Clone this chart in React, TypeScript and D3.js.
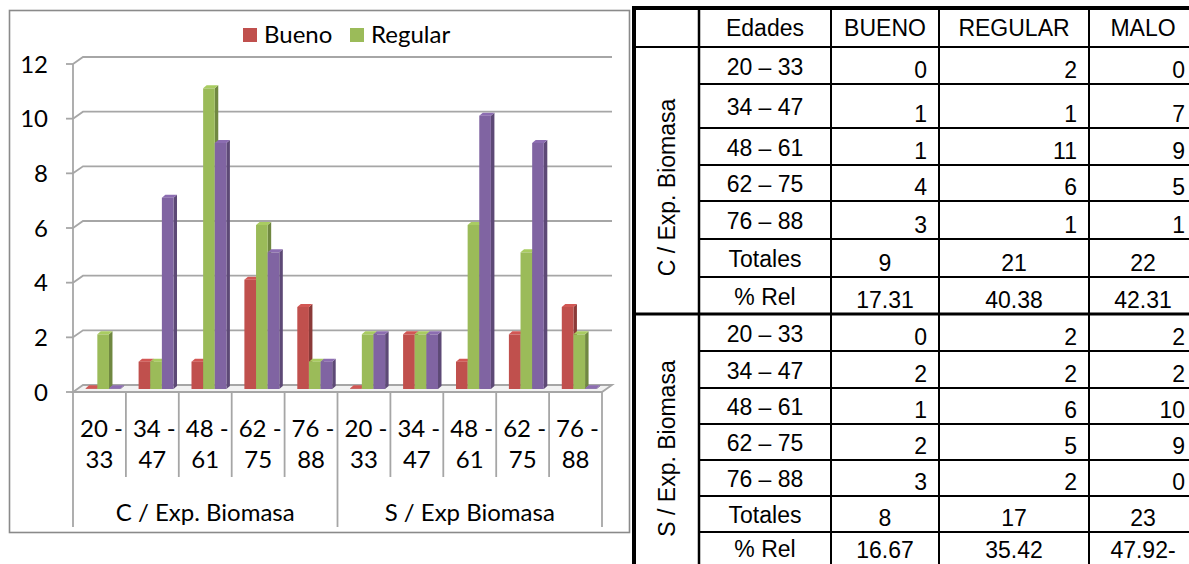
import React from "react";
import * as d3 from "d3";

// ---- Chart data ----
const groups = ["C / Exp. Biomasa", "S / Exp Biomasa"];
const ageTop = ["20 -", "34 -", "48 -", "62 -", "76 -"];
const ageBottom = ["33", "47", "61", "75", "88"];
const seriesNames = ["Bueno", "Regular", "Malo"];
const seriesColors = ["#C0504D", "#9BBB59", "#8064A2"];
const buenoValues = [0, 1, 1, 4, 3, 0, 2, 1, 2, 3];
const regularValues = [2, 1, 11, 6, 1, 2, 2, 6, 5, 2];
const maloValues = [0, 7, 9, 5, 1, 2, 2, 10, 9, 0];
const yTicks = [0, 2, 4, 6, 8, 10, 12];
const legendSeries = ["Bueno", "Regular"];

// ---- Table data ----
const tableHeader = ["", "Edades", "BUENO", "REGULAR", "MALO"];
const tableGroups = ["C / Exp. Biomasa", "S / Exp. Biomasa"];
const ageRanges = ["20 – 33", "34 – 47", "48 – 61", "62 – 75", "76 – 88"];
const cBueno = [0, 1, 1, 4, 3];
const cRegular = [2, 1, 11, 6, 1];
const cMalo = [0, 7, 9, 5, 1];
const sBueno = [0, 2, 1, 2, 3];
const sRegular = [2, 2, 6, 5, 2];
const sMalo = [2, 2, 10, 9, 0];
const cTotals = ["9", "21", "22"];
const cRel = ["17.31", "40.38", "42.31"];
const sTotals = ["8", "17", "23"];
const sRel = ["16.67", "35.42", "47.92-"];

// ---- Layout ----
const W = 1189;
const H = 564;
const chartFont = "Lato, 'Open Sans', sans-serif";
const chartFs = 24;
const tableFont = "'Liberation Sans', Arial, sans-serif";
const gridColor = "#a6a6a6";

const plot = { left: 73, right: 602, top: 64, bottom: 392 };
const wall = { dx: 10, dy: -7 };
const barDepth = { dx: 3.5, dy: -3 };

const tableCols = [634, 699, 831, 939, 1089, 1197];
const tableRows = [7, 47, 84, 128, 165, 201, 239, 277, 314, 351, 388, 424, 460, 496, 532, 569];

function Chart() {
  const seriesValues = [buenoValues, regularValues, maloValues];
  const x = d3
    .scaleBand<number>()
    .domain(d3.range(buenoValues.length))
    .range([plot.left, plot.right])
    .paddingInner(0)
    .paddingOuter(0);
  const bw = x.bandwidth();
  const inner = d3
    .scaleBand<string>()
    .domain(seriesNames)
    .range([bw * 0.24, bw * 0.9]);
  const y = d3.scaleLinear().domain([0, 12]).range([plot.bottom, plot.top]);
  const barShift = -3; // bars sit half way into the floor depth
  const base = y(0) + barShift;

  const bars: React.ReactNode[] = [];
  x.domain().forEach((ci) => {
    seriesNames.forEach((name, si) => {
      const v = seriesValues[si][ci];
      const x0 = (x(ci) as number) + (inner(name) as number);
      const w = inner.bandwidth();
      const top = Math.min(y(v) + barShift, base - 0.8);
      const col = d3.color(seriesColors[si])!;
      const side = col.darker(0.9).formatHex();
      const lid = col.brighter(0.25).formatHex();
      const { dx, dy } = barDepth;
      bars.push(
        <g key={`b-${ci}-${si}`}>
          <polygon
            points={`${x0 + w},${top} ${x0 + w + dx},${top + dy} ${x0 + w + dx},${base + dy} ${x0 + w},${base}`}
            fill={side}
          />
          <polygon
            points={`${x0},${top} ${x0 + dx},${top + dy} ${x0 + w + dx},${top + dy} ${x0 + w},${top}`}
            fill={lid}
          />
          <rect x={x0} y={top} width={w} height={base - top} fill={seriesColors[si]} />
        </g>
      );
    });
  });

  const nCat = buenoValues.length;
  const perGroup = ageTop.length;

  return (
    <g>
      {/* outer frame */}
      <rect x={9.5} y={10.5} width={620} height={522} fill="#fff" stroke="#8a8a8a" strokeWidth={1.6} />

      {/* legend */}
      {legendSeries.map((name, i) => {
        const lx = [243, 350][i];
        return (
          <g key={name}>
            <rect x={lx} y={28} width={14} height={14} fill={seriesColors[seriesNames.indexOf(name)]} />
            <text x={lx + 21} y={43} fontFamily={chartFont} fontSize={chartFs} fill="#000">
              {name}
            </text>
          </g>
        );
      })}

      {/* gridlines with back-wall offset */}
      {yTicks.map((t) => {
        const yf = y(t);
        return (
          <g key={`g-${t}`} stroke={gridColor} strokeWidth={1.8} fill="none">
            <line x1={plot.left - 7} x2={plot.left} y1={yf} y2={yf} />
            {t > 0 && (
              <polyline
                points={`${plot.left},${yf} ${plot.left + wall.dx},${yf + wall.dy} ${plot.right + wall.dx},${yf + wall.dy}`}
              />
            )}
          </g>
        );
      })}

      {/* floor */}
      <polygon
        points={`${plot.left},${plot.bottom} ${plot.right},${plot.bottom} ${plot.right + wall.dx},${plot.bottom + wall.dy} ${plot.left + wall.dx},${plot.bottom + wall.dy}`}
        fill="#f2f2f2"
        stroke={gridColor}
        strokeWidth={1.8}
      />

      {/* value axis */}
      <line x1={plot.left} x2={plot.left} y1={plot.top} y2={plot.bottom} stroke={gridColor} strokeWidth={1.8} />
      {yTicks.map((t) => (
        <text key={`yt-${t}`} x={48} y={y(t) + 8.5} textAnchor="end" fontFamily={chartFont} fontSize={chartFs} fill="#000">
          {t}
        </text>
      ))}

      {bars}

      {/* category axis dividers */}
      {d3.range(nCat + 1).map((k) => {
        const xx = plot.left + k * bw;
        const isGroupEdge = k % perGroup === 0;
        return (
          <line
            key={`d-${k}`}
            x1={xx}
            x2={xx}
            y1={plot.bottom}
            y2={isGroupEdge ? 527 : 477}
            stroke={gridColor}
            strokeWidth={1.8}
          />
        );
      })}

      {/* category labels */}
      {x.domain().map((ci) => {
        const cx = (x(ci) as number) + bw / 2;
        const ai = ci % perGroup;
        return (
          <g key={`cl-${ci}`} fontFamily={chartFont} fontSize={chartFs} fill="#000" textAnchor="middle">
            <text x={cx + 2} y={437}>{ageTop[ai]}</text>
            <text x={cx} y={468}>{ageBottom[ai]}</text>
          </g>
        );
      })}
      {groups.map((g, gi) => {
        const gx = plot.left + (gi * perGroup + perGroup / 2) * bw;
        return (
          <text key={g} x={gx} y={521} textAnchor="middle" fontFamily={chartFont} fontSize={chartFs} fill="#000">
            {g}
          </text>
        );
      })}
    </g>
  );
}

function DataTable() {
  const groupRows = [
    { name: tableGroups[0], b: cBueno, r: cRegular, m: cMalo, tot: cTotals, rel: cRel },
    { name: tableGroups[1], b: sBueno, r: sRegular, m: sMalo, tot: sTotals, rel: sRel },
  ];
  const rowsPerGroup = ageRanges.length + 2;
  const fs = 23;
  const pad = 12;
  const cells: React.ReactNode[] = [];

  // header
  const hTop = tableRows[0];
  const hBot = tableRows[1];
  tableHeader.forEach((h, ci) => {
    if (!h) return;
    const cx = (tableCols[ci] + tableCols[ci + 1]) / 2;
    cells.push(
      <text key={`h-${ci}`} x={cx} y={(hTop + hBot) / 2 + 9} textAnchor="middle">
        {h}
      </text>
    );
  });

  groupRows.forEach((g, gi) => {
    const firstRow = 1 + gi * rowsPerGroup;
    const gTop = tableRows[firstRow];
    const gBot = tableRows[firstRow + rowsPerGroup];
    const gcx = (tableCols[0] + tableCols[1]) / 2;
    const gcy = (gTop + gBot) / 2 + 7;
    cells.push(
      <text
        key={`grp-${gi}`}
        transform={`translate(${gcx + 8},${gcy}) rotate(-90)`}
        textAnchor="middle"
      >
        {g.name}
      </text>
    );
    const labels = [...ageRanges, "Totales", "% Rel"];
    const lastRow = gi === groupRows.length - 1;
    labels.forEach((lab, li) => {
      const top = tableRows[firstRow + li];
      const bot = tableRows[firstRow + li + 1];
      const lx = (tableCols[1] + tableCols[2]) / 2;
      const isBottomEdge = lastRow && li === labels.length - 1;
      cells.push(
        <text key={`l-${gi}-${li}`} x={lx} y={isBottomEdge ? H - 7 : (top + bot) / 2 + 9} textAnchor="middle">
          {lab}
        </text>
      );
      const valueY = isBottomEdge ? H - 6 : bot - 6;
      if (li < ageRanges.length) {
        [g.b[li], g.r[li], g.m[li]].forEach((v, k) => {
          cells.push(
            <text key={`v-${gi}-${li}-${k}`} x={tableCols[k + 3] - pad} y={valueY} textAnchor="end">
              {v}
            </text>
          );
        });
      } else {
        const vals = li === ageRanges.length ? g.tot : g.rel;
        vals.forEach((v, k) => {
          const cx = (tableCols[k + 2] + tableCols[k + 3]) / 2;
          cells.push(
            <text key={`t-${gi}-${li}-${k}`} x={cx} y={valueY} textAnchor="middle">
              {v}
            </text>
          );
        });
      }
    });
  });

  // rules
  const lines: React.ReactNode[] = [];
  tableRows.slice(1, -1).forEach((ry, i) => {
    const idx = i + 1;
    const isGroupEdge = (idx - 1) % rowsPerGroup === 0;
    lines.push(
      <line
        key={`hr-${idx}`}
        x1={isGroupEdge ? tableCols[0] : tableCols[1]}
        x2={W}
        y1={ry}
        y2={ry}
        stroke="#000"
        strokeWidth={idx === 1 + rowsPerGroup ? 3 : 2}
      />
    );
  });
  tableCols.slice(1, -1).forEach((cx, i) => {
    lines.push(
      <line key={`vr-${i}`} x1={cx} x2={cx} y1={tableRows[0]} y2={H} stroke="#000" strokeWidth={i === 0 ? 2.5 : 2} />
    );
  });
  lines.push(<line key="top" x1={tableCols[0] - 2} x2={W} y1={tableRows[0] + 1} y2={tableRows[0] + 1} stroke="#000" strokeWidth={4} />);
  lines.push(<line key="left" x1={tableCols[0]} x2={tableCols[0]} y1={tableRows[0] - 1} y2={H} stroke="#000" strokeWidth={4} />);

  return (
    <g fontFamily={tableFont} fontSize={fs} fill="#000">
      {lines}
      {cells}
    </g>
  );
}

export default function App() {
  return (
    <svg
      width={W}
      height={H}
      viewBox={`0 0 ${W} ${H}`}
      style={{ position: "fixed", left: 0, top: 0, background: "#fff" }}
    >
      <rect x={0} y={0} width={W} height={H} fill="#fff" />
      <Chart />
      <DataTable />
    </svg>
  );
}
